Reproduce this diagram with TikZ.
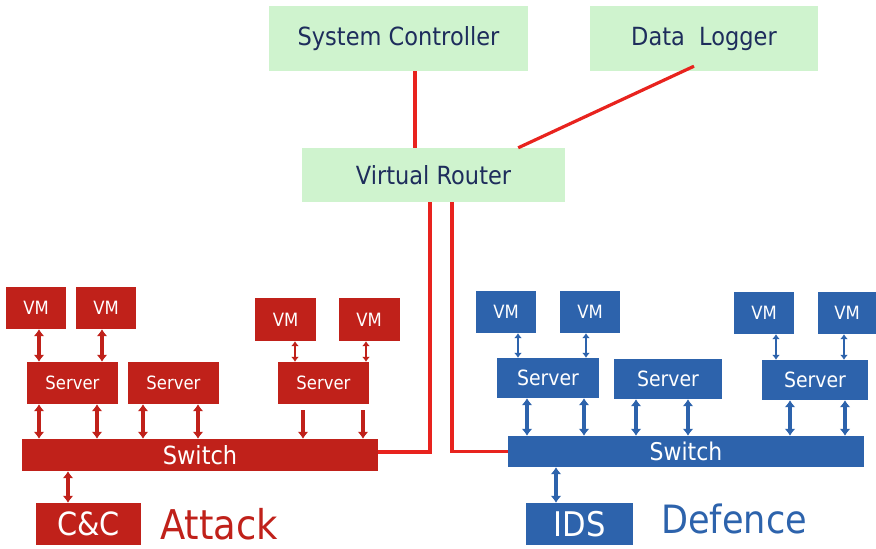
\documentclass[tikz,border=0pt]{standalone}
\usepackage{fontspec}
\setmainfont{DejaVu Sans}[FakeStretch=0.9]
\usetikzlibrary{arrows.meta}
\definecolor{atk}{RGB}{192,33,26}
\definecolor{dfn}{RGB}{45,99,172}
\definecolor{grn}{RGB}{207,243,206}
\definecolor{navy}{RGB}{30,45,92}
\definecolor{wire}{RGB}{232,35,30}
\newcommand\fs[1]{\fontsize{#1}{#1}\selectfont}
\newcommand\conn[4]{\draw[#1] ([xshift=#4]#2.south) -- ([xshift=#4]#2.south |- #3.north);}
\tikzset{
  gbox/.style={fill=grn, text=navy, inner sep=0pt, font=\fs{25}},
  rbox/.style={fill=atk, text=white, inner sep=0pt},
  bbox/.style={fill=dfn, text=white, inner sep=0pt},
  link/.style={draw=wire, line width=3.2pt},
  rthick/.style={draw=atk, line width=3.6pt, {Latex[length=7pt,width=11pt]}-{Latex[length=7pt,width=11pt]}},
  rthin/.style={draw=atk, line width=2.4pt, {Latex[length=5pt,width=8pt]}-{Latex[length=5pt,width=8pt]}},
  rdown/.style={draw=atk, line width=3.6pt, -{Latex[length=7pt,width=11pt]}},
  bthick/.style={draw=dfn, line width=3.6pt, {Latex[length=7pt,width=11pt]}-{Latex[length=7pt,width=11pt]}},
  bthin/.style={draw=dfn, line width=2.4pt, {Latex[length=5pt,width=8pt]}-{Latex[length=5pt,width=8pt]}},
}
\begin{document}
\begin{tikzpicture}[x=1pt,y=-1pt]
\useasboundingbox[fill=white] (0,0) rectangle (876,549);
% top
\node[gbox, minimum width=259, minimum height=65] (sc) at (398.5,38.5) {System Controller};
\node[gbox, minimum width=228, minimum height=65] (dl) at (704,38.5) {Data\ \ Logger};
\node[gbox, minimum width=263, minimum height=54] (vr) at (433.5,175) {Virtual Router};
% attack side
\node[rbox, minimum width=60, minimum height=42, font=\fs{18.3}] (vm1) at (36,308) {VM};
\node[rbox, minimum width=60, minimum height=42, font=\fs{18.3}] (vm2) at (106,308) {VM};
\node[rbox, minimum width=61, minimum height=43, font=\fs{18.3}] (vm3) at (285.5,319.5) {VM};
\node[rbox, minimum width=61, minimum height=43, font=\fs{18.3}] (vm4) at (369,319.5) {VM};
\node[rbox, minimum width=91, minimum height=42, font=\fs{18.3}] (s1) at (72.5,383) {Server};
\node[rbox, minimum width=91, minimum height=42, font=\fs{18.3}] (s2) at (173.5,383) {Server};
\node[rbox, minimum width=91, minimum height=42, font=\fs{18.3}] (s3) at (323.5,383) {Server};
\node[rbox, minimum width=356, minimum height=32, font=\fs{25}] (sw1) at (200,455) {Switch};
\node[rbox, minimum width=105, minimum height=42, font=\fs{32}] (cc) at (88.5,524) {C\&C};
\node[anchor=west, inner sep=0pt, text=atk, font=\fs{41}] (atk) at (160,524) {Attack};
% defence side
\node[bbox, minimum width=60, minimum height=42, font=\fs{18.3}] (vm5) at (506,312) {VM};
\node[bbox, minimum width=60, minimum height=42, font=\fs{18.3}] (vm6) at (590,312) {VM};
\node[bbox, minimum width=60, minimum height=42, font=\fs{18.3}] (vm7) at (764,313) {VM};
\node[bbox, minimum width=58, minimum height=42, font=\fs{18.3}] (vm8) at (847,313) {VM};
\node[bbox, minimum width=102, minimum height=40, font=\fs{21}] (s4) at (548,378) {Server};
\node[bbox, minimum width=108, minimum height=40, font=\fs{21}] (s5) at (668,379) {Server};
\node[bbox, minimum width=106, minimum height=40, font=\fs{21}] (s6) at (815,380) {Server};
\node[bbox, minimum width=356, minimum height=31, font=\fs{24.4}] (sw2) at (686,451.5) {Switch};
\node[bbox, minimum width=107, minimum height=42, font=\fs{34}] (ids) at (579.5,524) {IDS};
\node[anchor=west, inner sep=0pt, text=dfn, font=\fs{39}] (dfnt) at (661,519) {Defence};
% red links
\draw[link] ([xshift=16.5]sc.south) -- ([xshift=16.5]sc.south |- vr.north);
\draw[link] ([xshift=-10,yshift=5]dl.south) -- ([xshift=-47]vr.north east);
\draw[link] ([xshift=-3.5]vr.south) |- ([yshift=3]sw1.east);
\draw[link] ([xshift=18.5]vr.south) |- (sw2.west);
% attack arrows
\conn{rthick}{vm1}{s1}{3}
\conn{rthick}{vm2}{s1}{-4}
\conn{rthin}{vm3}{s3}{9.5}
\conn{rthin}{vm4}{s3}{-3}
\conn{rthick}{s1}{sw1}{-33.5}
\conn{rthick}{s1}{sw1}{24.5}
\conn{rthick}{s2}{sw1}{-30.5}
\conn{rthick}{s2}{sw1}{24.5}
\draw[rdown] ([xshift=-20.5,yshift=-6]s3.south) -- ([xshift=-20.5]s3.south |- sw1.north);
\draw[rdown] ([xshift=39.5,yshift=-6]s3.south) -- ([xshift=39.5]s3.south |- sw1.north);
\conn{rthick}{sw1}{cc}{-132}
% defence arrows
\conn{bthin}{vm5}{s4}{12}
\conn{bthin}{vm6}{s4}{-4}
\conn{bthin}{vm7}{s6}{12}
\conn{bthin}{vm8}{s6}{-3}
\conn{bthick}{s4}{sw2}{-21}
\conn{bthick}{s4}{sw2}{36}
\conn{bthick}{s5}{sw2}{-32}
\conn{bthick}{s5}{sw2}{20}
\conn{bthick}{s6}{sw2}{-25}
\conn{bthick}{s6}{sw2}{30}
\conn{bthick}{sw2}{ids}{-130}
\end{tikzpicture}
\end{document}
